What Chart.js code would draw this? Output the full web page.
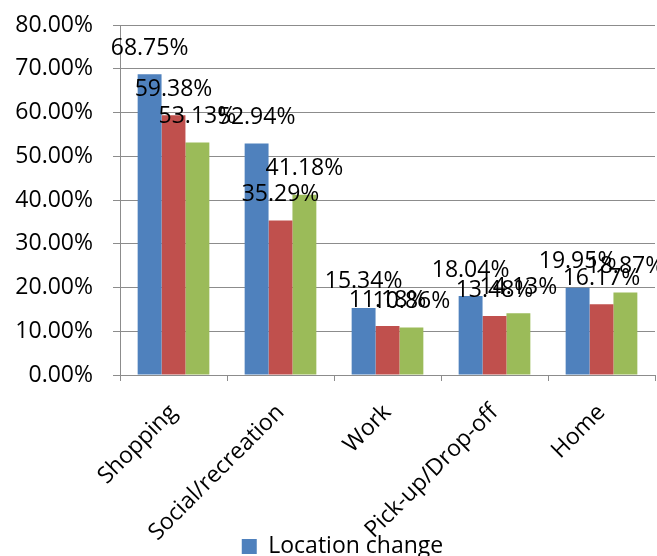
<!DOCTYPE html>
<html>
<head>
<meta charset="utf-8">
<script src="https://cdn.jsdelivr.net/npm/chart.js@4"></script>
<style>
  html, body { margin: 0; padding: 0; background: #fff; overflow: hidden; }
  #wrap { width: 657px; height: 556px; }
</style>
</head>
<body>
<div id="wrap"><canvas id="tripChart" width="657" height="556"></canvas></div>
<script>
const categories = ['Shopping', 'Social/recreation', 'Work', 'Pick-up/Drop-off', 'Home'];
const seriesNames = ['Location change', 'Series 2', 'Series 3'];
const locationChange = [68.75, 52.94, 15.34, 18.04, 19.95];
const series2 = [59.38, 35.29, 11.18, 13.48, 16.17];
const series3 = [53.13, 41.18, 10.86, 14.13, 18.87];
const yTicks = [0, 10, 20, 30, 40, 50, 60, 70, 80];

const FONT = '"Open Sans", "Liberation Sans", sans-serif';
const FONT_SIZE = 23;
const GRID = '#8c8c8c';

// percentage labels drawn above each bar
const barLabels = {
    id: 'barLabels',
    afterDatasetsDraw(chart) {
        const ctx = chart.ctx;
        ctx.save();
        ctx.font = FONT_SIZE + 'px ' + FONT;
        ctx.fillStyle = '#000';
        ctx.textAlign = 'center';
        ctx.textBaseline = 'middle';
        chart.data.datasets.forEach((ds, i) => {
            chart.getDatasetMeta(i).data.forEach((bar, j) => {
                ctx.fillText(ds.data[j].toFixed(2) + '%', bar.x, bar.y - 26);
            });
        });
        ctx.restore();
    }
};

// nudge the legend right and let the long category labels run past the axis box
const layoutTweaks = {
    id: 'layoutTweaks',
    afterLayout(chart) {
        if (chart.legend) {
            chart.legend.left += 15;
            chart.legend.right += 15;
        }
        chart.scales.x.bottom = chart.height;
    }
};

const ctx = document.getElementById('tripChart').getContext('2d');
new Chart(ctx, {
    type: 'bar',
    data: {
        labels: categories,
        datasets: [
            { label: seriesNames[0], data: locationChange, backgroundColor: '#4F81BD' },
            { label: seriesNames[1], data: series2, backgroundColor: '#C0504D' },
            { label: seriesNames[2], data: series3, backgroundColor: '#9BBB59' }
        ]
    },
    options: {
        responsive: false,
        animation: false,
        layout: { padding: { top: 25, right: 2, left: 0, bottom: -12 } },
        datasets: { bar: { categoryPercentage: 0.67, barPercentage: 1.0 } },
        plugins: {
            tooltip: { enabled: false },
            legend: {
                position: 'bottom',
                labels: {
                    font: { family: FONT, size: FONT_SIZE },
                    color: '#000',
                    boxWidth: 15,
                    boxHeight: 15,
                    padding: 0,
                    filter: item => item.datasetIndex === 0
                }
            }
        },
        scales: {
            x: {
                grid: { drawOnChartArea: false, color: GRID, tickLength: 6, offset: true },
                border: { color: GRID, width: 1 },
                ticks: {
                    font: { family: FONT, size: FONT_SIZE },
                    color: '#000',
                    padding: 18,
                    maxRotation: 45,
                    minRotation: 45,
                    autoSkip: false
                },
                afterFit(scale) {
                    scale.height = 160;
                    scale.paddingLeft = 0;
                    scale.paddingRight = 0;
                }
            },
            y: {
                min: 0,
                max: 80,
                afterBuildTicks(scale) { scale.ticks = yTicks.map(v => ({ value: v })); },
                grid: { color: GRID, tickLength: 7 },
                border: { color: GRID, width: 1 },
                ticks: {
                    font: { family: FONT, size: FONT_SIZE },
                    color: '#000',
                    padding: 20,
                    callback: v => v.toFixed(2) + '%'
                },
                afterFit(scale) {
                    scale.width = 120;
                    scale.paddingTop = 0;
                    scale.paddingBottom = 0;
                }
            }
        }
    },
    plugins: [barLabels, layoutTweaks]
});
</script>
</body>
</html>
